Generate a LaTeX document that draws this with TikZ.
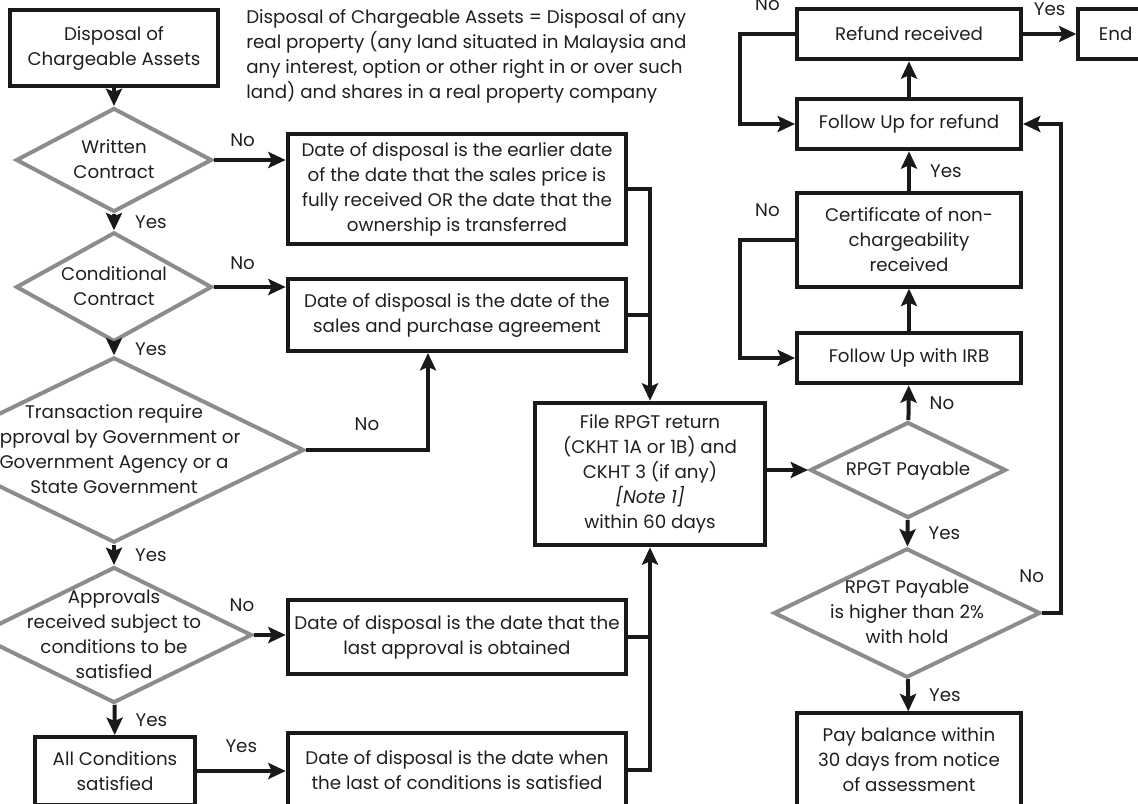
\documentclass[tikz,border=0pt]{standalone}
\usepackage{fontspec}
\setmainfont{Poppins}
\usetikzlibrary{shapes.geometric, arrows.meta, positioning}
\newcommand{\dlines}[1]{\smash{\raisebox{-.3em}{\makebox[0pt]{\begin{tabular}{@{}c@{}}#1\end{tabular}}}}}

\begin{document}
\begin{tikzpicture}[x=0.75pt, y=-0.75pt,
    font=\fontsize{13.7}{18.75}\selectfont,
    every node/.style={text=black!88},
    box/.style={draw=black!90, line width=3pt, align=center, inner sep=2pt},
    decision/.style={diamond, draw=black!45, line width=3pt, inner sep=0pt},
    arr/.style={draw=black!90, line width=3pt, -{Stealth[length=13pt, width=12pt, inset=2.5pt]}},
    link/.style={draw=black!90, line width=3pt}]
    \useasboundingbox (0,0) rectangle (1138,803);

    \node[box, minimum width=156pt, minimum height=57pt] (start) at (114,48) {Disposal of\\Chargeable Assets};
    \node[decision, minimum width=147pt, minimum height=78pt] (wc) at (114,160) {\dlines{Written\\Contract}};
    \node[decision, minimum width=147pt, minimum height=82pt] (cc) at (114,287) {\dlines{Conditional\\Contract}};
    \node[decision, minimum width=285pt, minimum height=139pt] (tr) at (114,450)
        {\dlines{Transaction require\\approval by Government or\\Government Agency or a\\State Government}};
    \node[decision, minimum width=207pt, minimum height=102pt] (ap) at (114,635)
        {\dlines{Approvals\\received subject to\\conditions to be\\satisfied}};
    \node[box, minimum width=120pt, minimum height=51pt] (allc) at (115,771) {All Conditions\\satisfied};

    \node[anchor=north west, align=left, inner sep=0pt] (def) at (246,9)
        {Disposal of Chargeable Assets = Disposal of any\\
         real property (any land situated in Malaysia and\\
         any interest, option or other right in or over such\\
         land) and shares in a real property company};

    \node[box, minimum width=254pt, minimum height=82pt] (d1) at (457,189)
        {Date of disposal is the earlier date\\of the date that the sales price is\\fully received OR the date that the\\ownership is transferred};
    \node[box, minimum width=254pt, minimum height=54pt] (d2) at (457,315)
        {Date of disposal is the date of the\\sales and purchase agreement};
    \node[box, minimum width=254pt, minimum height=55pt] (d3) at (457,637)
        {Date of disposal is the date that the\\last approval is obtained};
    \node[box, minimum width=254pt, minimum height=55pt] (d4) at (457,770)
        {Date of disposal is the date when\\the last of conditions is satisfied};
    \node[box, minimum width=172pt, minimum height=107pt] (file) at (650,474)
        {File RPGT return\\(CKHT 1A or 1B) and\\CKHT 3 (if any)\\\textit{[Note 1]}\\within 60 days};

    \node[decision, minimum width=147pt, minimum height=72pt] (rp) at (908,470) {\dlines{RPGT Payable}};
    \node[decision, minimum width=200pt, minimum height=97pt] (rh) at (907,613)
        {\dlines{RPGT Payable\\is higher than 2\%\\with hold}};
    \node[box, minimum width=168pt, minimum height=70pt] (pay) at (909,760)
        {Pay balance within\\30 days from notice\\of assessment};
    \node[box, minimum width=168pt, minimum height=38pt] (irb) at (909,358) {Follow Up with IRB};
    \node[box, minimum width=168pt, minimum height=70pt] (cert) at (909,240)
        {Certificate of non-\\chargeability\\received};
    \node[box, minimum width=168pt, minimum height=38pt] (fur) at (909,124) {Follow Up for refund};
    \node[box, minimum width=168pt, minimum height=38pt] (rr) at (909,34) {Refund received};
    \node[box, minimum width=56pt, minimum height=38pt, right=40pt of rr] (end) {End};

    \coordinate (j2) at (428,0);
    \coordinate (j3) at (1061,0);
    \coordinate (j4) at (740,0);

    \draw[arr] (start) -- (wc);
    \draw[arr] (wc) -- node[right=11pt] {Yes} (cc);
    \draw[arr] (cc) -- node[right=11pt] {Yes} (tr);
    \draw[arr] (tr) -- node[right=11pt] {Yes} (ap);
    \draw[arr] (ap) -- node[right=11pt] {Yes} (allc);

    \draw[arr] (wc.east) -- node[pos=0.4, above=5pt] {No} (wc.east -| d1.west);
    \draw[arr] (cc.east) -- node[pos=0.4, above=8pt] {No} (cc.east -| d2.west);
    \draw[arr] (tr.east) -- node[above=10pt] {No} (tr.east -| j2) -- (d2.south -| j2);
    \draw[arr] (ap.east) -- node[pos=0, above=13pt, xshift=-9pt] {No} (ap.east -| d3.west);
    \draw[arr] (allc) -- node[above=9pt] {Yes} (allc -| d4.west);

    \draw[arr] (d1.east) -| (file.north);
    \draw[link] (d2.east) -- (d2.east -| file.north);
    \draw[arr] (d4.east) -| (file.south);
    \draw[link] (d3.east) -- (d3.east -| file.south);
    \draw[arr] (file.east |- rp.west) -- (rp.west);

    \draw[arr] (rp) -- node[right=11pt] {No} (irb);
    \draw[arr] (rp) -- node[right=11pt] {Yes} (rh);
    \draw[arr] (rh) -- node[right=11pt] {Yes} (pay);
    \draw[arr] (rh.east) -- node[pos=0, above=18pt, xshift=-8pt] {No} (rh.east -| j3) |- (fur.east);
    \draw[arr] (irb) -- (cert);
    \draw[arr] (cert) -- node[right=11pt] {Yes} (fur);
    \draw[arr] (fur) -- (rr);
    \draw[arr] (rr) -- node[above=9pt] {Yes} (end);
    \draw[arr] (rr.west) -- node[above=13pt] {No} (rr.west -| j4) |- (fur.west);
    \draw[arr] (cert.west) -- node[above=13pt] {No} (cert.west -| j4) |- (irb.west);
\end{tikzpicture}
\end{document}
